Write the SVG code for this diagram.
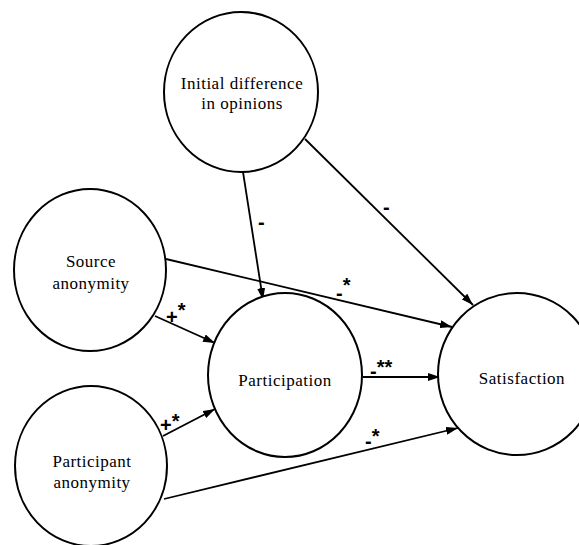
<svg xmlns="http://www.w3.org/2000/svg" width="579" height="545" viewBox="0 0 579 545">
<style>
.node{fill:#fff;stroke:#000;stroke-width:2}
.e{stroke:#000;stroke-width:1.8;fill:none;marker-end:url(#ah)}
</style>
<defs>
<marker id="ah" markerWidth="12" markerHeight="8" refX="12" refY="4" orient="auto" markerUnits="userSpaceOnUse">
<path d="M0,0 L12,4 L0,8 Z" fill="#000"/>
</marker>
</defs>
<rect width="579" height="545" fill="#fff"/>
<g id="connectors">
<line class="e" x1="243" y1="172" x2="263" y2="300"/>
<line class="e" x1="305" y1="139" x2="473" y2="305"/>
<line class="e" x1="166" y1="259" x2="452" y2="327"/>
<line class="e" x1="155" y1="316" x2="215" y2="343"/>
<line class="e" x1="163" y1="436" x2="215" y2="409"/>
<line class="e" x1="164" y1="499" x2="458" y2="428"/>
<line class="e" x1="363" y1="377" x2="440" y2="377"/>
<g font-family="Liberation Sans, Arial, sans-serif" font-size="20" font-weight="bold" fill="#000">
<text x="258" y="229">-</text>
<text x="383" y="214">-</text>
<text x="336" y="300">-<tspan dy="-8">*</tspan></text>
<text x="166" y="324">+<tspan dy="-7">*</tspan></text>
<text x="160" y="432">+<tspan dy="-4">*</tspan></text>
<text x="365" y="448">-<tspan dy="-5">*</tspan></text>
<text x="370" y="378">-<tspan dy="-4">**</tspan></text>
</g>
</g>
<g font-family="Liberation Serif, Times New Roman, serif" font-size="17" letter-spacing="0.5" fill="#000" text-anchor="middle">
<g id="initial">
<ellipse class="node" cx="241" cy="92" rx="77" ry="80"/>
<text x="242" y="89">Initial difference</text>
<text x="242" y="109">in opinions</text>
</g>
<g id="source">
<ellipse class="node" cx="90" cy="270" rx="76" ry="81"/>
<text x="91" y="267">Source</text>
<text x="91" y="289">anonymity</text>
</g>
<g id="participant">
<ellipse class="node" cx="91" cy="466" rx="76" ry="80"/>
<text x="92" y="467">Participant</text>
<text x="92" y="488">anonymity</text>
</g>
<g id="participation">
<ellipse class="node" cx="285" cy="375" rx="77" ry="82"/>
<text x="285" y="386">Participation</text>
</g>
<g id="satisfaction">
<ellipse class="node" cx="517" cy="374" rx="79" ry="81"/>
<text x="522" y="384">Satisfaction</text>
</g>
</g>
</svg>
